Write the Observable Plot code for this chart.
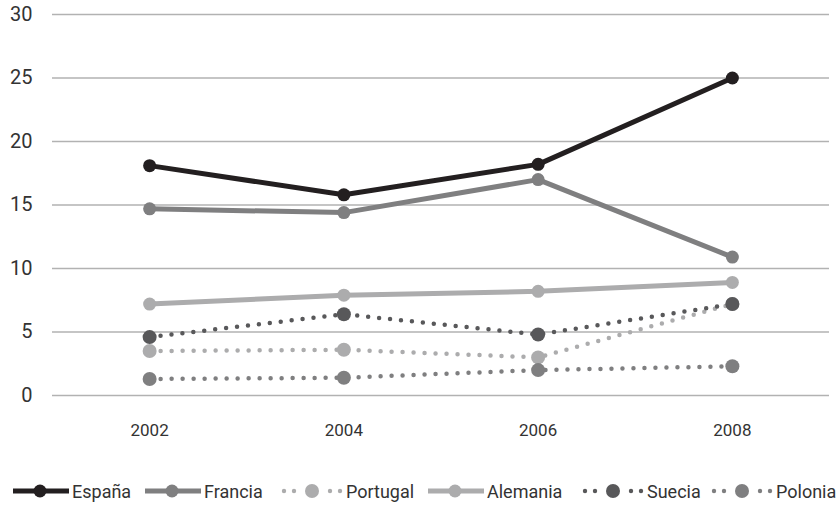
<!DOCTYPE html>
<html>
<head>
<meta charset="utf-8">
<script src="https://cdn.jsdelivr.net/npm/d3@7"></script>
<script src="https://cdn.jsdelivr.net/npm/@observablehq/plot@0.6"></script>
<style>
  html, body { margin: 0; padding: 0; background: #fff; }
  body { width: 839px; height: 508px; font-family: Roboto, "DejaVu Sans", sans-serif; color: #333; }
  #chart svg { display: block; }
  #legend { position: relative; margin-top: 10px; height: 22px; font-size: 18px; color: #333; }
  .item { position: absolute; top: 0; height: 22px; display: flex; align-items: center; white-space: nowrap; }
  .item svg { display: block; margin-right: 3px; }
</style>
</head>
<body>
<div id="chart"></div>
<div id="legend"></div>
<script>
// Survey years
const years = [2002, 2004, 2006, 2008];

// Values per country
const espana   = [18.1, 15.8, 18.2, 25.0];
const francia  = [14.7, 14.4, 17.0, 10.9];
const portugal = [3.5, 3.6, 3.0, 7.2];
const alemania = [7.2, 7.9, 8.2, 8.9];
const suecia   = [4.6, 6.4, 4.8, 7.2];
const polonia  = [1.3, 1.4, 2.0, 2.3];

const countries = ["España", "Francia", "Portugal", "Alemania", "Suecia", "Polonia"];
const valuesByCountry = [espana, francia, portugal, alemania, suecia, polonia];

// Axis ticks
const yTicks = [0, 5, 10, 15, 20, 25, 30];

// Styling per series
const colors = ["#231f20", "#7f7f80", "#acacad", "#acacad", "#58585a", "#7f7f80"];
const dotted = [false, false, true, false, true, true];
const legendLeft = [13, 145, 281, 428, 582, 711];

const series = countries.map((name, i) => ({
  name,
  color: colors[i],
  dotted: dotted[i],
  rows: years.map((year, j) => ({ year, value: valuesByCountry[i][j], name }))
}));

const marks = [
  Plot.gridY(yTicks, { stroke: "#b2b2b2", strokeOpacity: 1, strokeWidth: 1.5 }),
  Plot.axisY(yTicks, { tickSize: 0, tickPadding: 20, fontSize: 20, fill: "#333", label: null }),
  Plot.axisX(years, { tickSize: 0, tickPadding: 28, fontSize: 17, fill: "#333", label: null, tickFormat: d => String(d) })
];

for (const s of series) {
  marks.push(
    Plot.line(s.rows, {
      x: "year", y: "value", stroke: s.color,
      strokeWidth: s.dotted ? 4.5 : 5,
      strokeDasharray: s.dotted ? "0 11" : null,
      strokeLinecap: "round", strokeLinejoin: "round"
    }),
    Plot.dot(s.rows, { x: "year", y: "value", r: s.dotted ? 7 : 6.5, fill: s.color, stroke: "none" })
  );
}

const chart = Plot.plot({
  width: 839,
  height: 470,
  marginTop: 14,
  marginBottom: 75,
  marginLeft: 52,
  marginRight: 10,
  style: { fontFamily: "Roboto, 'DejaVu Sans', sans-serif", background: "#fff" },
  x: { domain: [2001, 2009], label: null },
  y: { domain: [0, 30], label: null },
  marks
});
document.getElementById("chart").appendChild(chart);

// Legend swatches
const legend = document.getElementById("legend");
const ns = "http://www.w3.org/2000/svg";
series.forEach((s, i) => {
  const item = document.createElement("div");
  item.className = "item";
  item.style.left = legendLeft[i] + "px";
  const sw = document.createElementNS(ns, "svg");
  const w = s.dotted ? 62 : 56;
  sw.setAttribute("width", w);
  sw.setAttribute("height", 16);
  if (s.dotted) {
    for (const cx of [3, 13, 49, 59]) {
      const c = document.createElementNS(ns, "circle");
      c.setAttribute("cx", cx); c.setAttribute("cy", 8); c.setAttribute("r", 2.2);
      c.setAttribute("fill", s.color);
      sw.appendChild(c);
    }
    const m = document.createElementNS(ns, "circle");
    m.setAttribute("cx", 31); m.setAttribute("cy", 8); m.setAttribute("r", 7);
    m.setAttribute("fill", s.color);
    sw.appendChild(m);
  } else {
    const l = document.createElementNS(ns, "line");
    l.setAttribute("x1", 0); l.setAttribute("x2", w);
    l.setAttribute("y1", 8); l.setAttribute("y2", 8);
    l.setAttribute("stroke", s.color); l.setAttribute("stroke-width", 5);
    sw.appendChild(l);
    const m = document.createElementNS(ns, "circle");
    m.setAttribute("cx", 27); m.setAttribute("cy", 8); m.setAttribute("r", 6.5);
    m.setAttribute("fill", s.color);
    sw.appendChild(m);
  }
  item.appendChild(sw);
  const t = document.createElement("span");
  t.textContent = s.name;
  item.appendChild(t);
  legend.appendChild(item);
});
</script>
</body>
</html>
